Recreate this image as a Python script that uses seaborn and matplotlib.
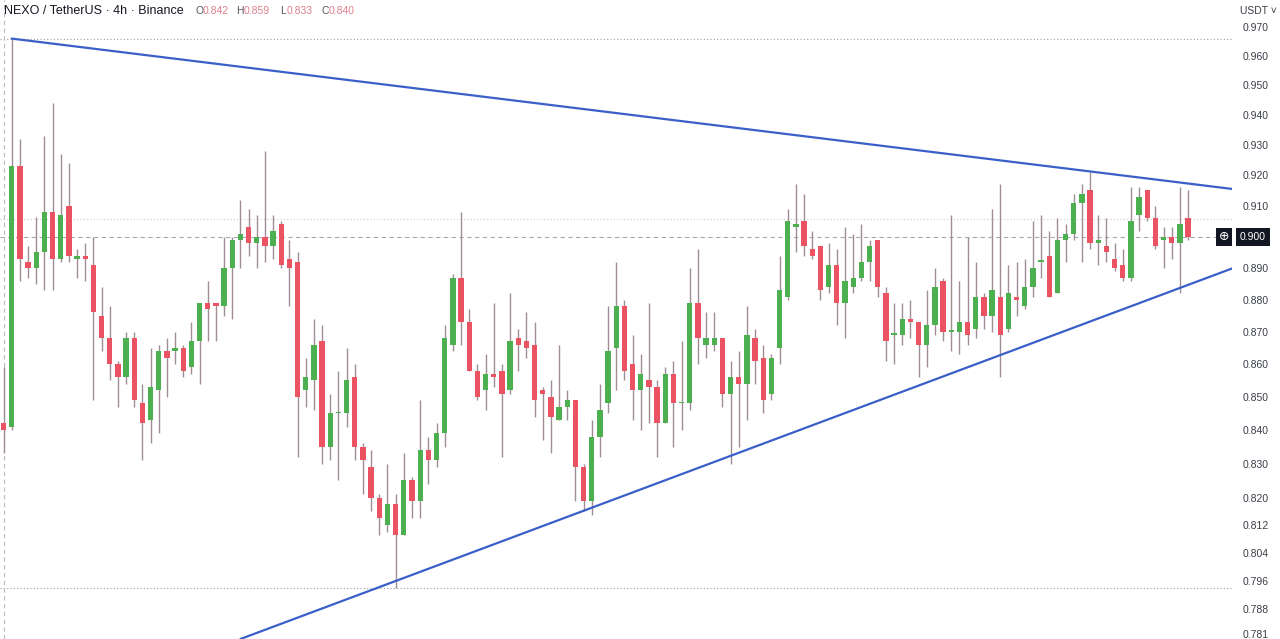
import numpy as np
import pandas as pd
import seaborn as sns
import matplotlib.pyplot as plt
import matplotlib.ticker as mticker

# NEXO / USDT 4h candles
opens = [0.842, 0.841, 0.923, 0.892, 0.890, 0.895, 0.908, 0.893, 0.910, 0.893,
         0.894, 0.891, 0.875, 0.868, 0.860, 0.856, 0.868, 0.848, 0.843, 0.852,
         0.864, 0.864, 0.865, 0.859, 0.867, 0.879, 0.879, 0.878, 0.890, 0.899,
         0.903, 0.898, 0.900, 0.897, 0.904, 0.893, 0.892, 0.852, 0.855, 0.867,
         0.835, 0.845, 0.845, 0.856, 0.835, 0.829, 0.820, 0.812, 0.818, 0.809,
         0.825, 0.819, 0.834, 0.831, 0.839, 0.866, 0.887, 0.873, 0.858, 0.852,
         0.857, 0.858, 0.852, 0.868, 0.867, 0.866, 0.852, 0.850, 0.843, 0.847,
         0.849, 0.829, 0.819, 0.838, 0.848, 0.865, 0.878, 0.860, 0.852, 0.855,
         0.853, 0.842, 0.857, 0.848, 0.848, 0.879, 0.866, 0.866, 0.868, 0.851,
         0.856, 0.854, 0.868, 0.862, 0.851, 0.865, 0.881, 0.903, 0.905, 0.896,
         0.897, 0.884, 0.891, 0.879, 0.884, 0.887, 0.892, 0.899, 0.882, 0.869,
         0.869, 0.874, 0.873, 0.866, 0.872, 0.886, 0.870, 0.870, 0.873, 0.871,
         0.881, 0.875, 0.881, 0.871, 0.881, 0.878, 0.884, 0.892, 0.894, 0.882,
         0.899, 0.901, 0.911, 0.915, 0.898, 0.897, 0.893, 0.891, 0.887, 0.907,
         0.915, 0.906, 0.899, 0.900, 0.898, 0.906]
highs = [0.859, 0.966, 0.932, 0.897, 0.9065, 0.933, 0.944, 0.927, 0.924, 0.896,
         0.898, 0.900, 0.884, 0.878, 0.861, 0.870, 0.870, 0.854, 0.865, 0.866,
         0.868, 0.870, 0.866, 0.873, 0.879, 0.886, 0.879, 0.900, 0.900, 0.912,
         0.909, 0.907, 0.928, 0.907, 0.905, 0.899, 0.895, 0.862, 0.874, 0.872,
         0.851, 0.858, 0.865, 0.860, 0.836, 0.834, 0.821, 0.830, 0.821, 0.833,
         0.826, 0.849, 0.838, 0.842, 0.872, 0.888, 0.908, 0.877, 0.860, 0.863,
         0.879, 0.860, 0.882, 0.871, 0.876, 0.873, 0.853, 0.855, 0.866, 0.852,
         0.849, 0.830, 0.843, 0.854, 0.878, 0.892, 0.880, 0.869, 0.863, 0.879,
         0.855, 0.859, 0.861, 0.867, 0.890, 0.896, 0.876, 0.876, 0.868, 0.861,
         0.864, 0.878, 0.871, 0.866, 0.863, 0.894, 0.909, 0.917, 0.914, 0.902,
         0.897, 0.898, 0.896, 0.903, 0.901, 0.904, 0.899, 0.899, 0.884, 0.879,
         0.879, 0.880, 0.873, 0.883, 0.890, 0.887, 0.907, 0.886, 0.900, 0.892,
         0.882, 0.909, 0.917, 0.891, 0.892, 0.893, 0.905, 0.907, 0.902, 0.906,
         0.904, 0.914, 0.917, 0.921, 0.907, 0.906, 0.898, 0.896, 0.916, 0.916,
         0.915, 0.910, 0.903, 0.903, 0.916, 0.915]
lows = [0.833, 0.840, 0.886, 0.887, 0.885, 0.883, 0.883, 0.892, 0.892, 0.887,
        0.886, 0.849, 0.864, 0.855, 0.847, 0.854, 0.847, 0.831, 0.836, 0.839,
        0.850, 0.860, 0.856, 0.857, 0.854, 0.867, 0.867, 0.875, 0.874, 0.890,
        0.894, 0.890, 0.892, 0.893, 0.890, 0.878, 0.832, 0.847, 0.846, 0.830,
        0.831, 0.825, 0.841, 0.831, 0.821, 0.816, 0.809, 0.810, 0.794, 0.809,
        0.814, 0.814, 0.824, 0.829, 0.835, 0.864, 0.866, 0.858, 0.849, 0.846,
        0.853, 0.832, 0.851, 0.858, 0.862, 0.844, 0.837, 0.833, 0.843, 0.843,
        0.819, 0.816, 0.815, 0.832, 0.845, 0.852, 0.855, 0.843, 0.840, 0.842,
        0.832, 0.842, 0.835, 0.840, 0.846, 0.860, 0.862, 0.864, 0.847, 0.830,
        0.835, 0.843, 0.854, 0.845, 0.849, 0.860, 0.880, 0.895, 0.894, 0.893,
        0.880, 0.882, 0.872, 0.868, 0.882, 0.886, 0.886, 0.881, 0.861, 0.860,
        0.866, 0.868, 0.856, 0.859, 0.869, 0.867, 0.864, 0.863, 0.866, 0.868,
        0.871, 0.870, 0.856, 0.870, 0.875, 0.877, 0.881, 0.887, 0.881, 0.882,
        0.892, 0.899, 0.892, 0.896, 0.891, 0.892, 0.889, 0.886, 0.886, 0.902,
        0.905, 0.896, 0.890, 0.893, 0.882, 0.899]
closes = [0.840, 0.923, 0.893, 0.890, 0.895, 0.908, 0.893, 0.907, 0.894, 0.894,
          0.893, 0.876, 0.868, 0.860, 0.856, 0.868, 0.849, 0.842, 0.853, 0.864,
          0.862, 0.865, 0.858, 0.867, 0.879, 0.877, 0.878, 0.890, 0.899, 0.901,
          0.898, 0.900, 0.897, 0.902, 0.891, 0.890, 0.850, 0.856, 0.866, 0.835,
          0.845, 0.845, 0.855, 0.835, 0.831, 0.820, 0.814, 0.818, 0.809, 0.825,
          0.819, 0.834, 0.831, 0.839, 0.868, 0.887, 0.873, 0.858, 0.850, 0.857,
          0.856, 0.851, 0.867, 0.866, 0.865, 0.849, 0.851, 0.844, 0.847, 0.849,
          0.829, 0.819, 0.838, 0.846, 0.864, 0.878, 0.858, 0.852, 0.857, 0.853,
          0.842, 0.857, 0.848, 0.848, 0.879, 0.868, 0.868, 0.868, 0.851, 0.856,
          0.854, 0.869, 0.861, 0.849, 0.862, 0.883, 0.905, 0.904, 0.897, 0.894,
          0.883, 0.891, 0.879, 0.886, 0.887, 0.892, 0.897, 0.884, 0.867, 0.869,
          0.874, 0.873, 0.866, 0.872, 0.884, 0.870, 0.870, 0.873, 0.869, 0.881,
          0.875, 0.883, 0.869, 0.882, 0.880, 0.884, 0.890, 0.892, 0.881, 0.899,
          0.901, 0.911, 0.914, 0.898, 0.899, 0.895, 0.890, 0.887, 0.905, 0.913,
          0.906, 0.897, 0.900, 0.898, 0.904, 0.900]

price_ticks = [0.970, 0.960, 0.950, 0.940, 0.930, 0.920, 0.910, 0.900, 0.890,
               0.880, 0.870, 0.860, 0.850, 0.840, 0.830, 0.820, 0.812, 0.804,
               0.796, 0.788, 0.781]

# triangle trend lines (candle index, price)
upper_x = [1, 150.4]
upper_y = [0.966, 0.9155]
lower_x = [29, 150.4]
lower_y = [0.7796, 0.8899]

range_high = 0.966
range_low = 0.7939
price_line = 0.9057
cross_price = 0.900
cross_idx = 0

GREEN = '#4caf50'
RED = '#ec5362'
WICK = '#a08e96'
BLUE = '#3b5fc8'

sns.set_theme(style='white')
plt.rcParams['font.family'] = ['Liberation Sans', 'DejaVu Sans']

df = pd.DataFrame({'open': opens, 'high': highs, 'low': lows, 'close': closes})
df['idx'] = np.arange(len(df))
up = df['close'] >= df['open']
colors = np.where(up, GREEN, RED)

W, H = 1280, 639
fig = plt.figure(figsize=(W / 100, H / 100), dpi=100)
ax = fig.add_axes([0, 0, 1232 / W, 1])
ax.set_yscale('log')

# guide lines
ax.axhline(range_high, color='#9aa0aa', ls=(0, (1, 2)), lw=0.8, zorder=1)
ax.axhline(range_low, color='#9aa0aa', ls=(0, (1, 2)), lw=0.8, zorder=1)
ax.axhline(price_line, color='#c8cad0', ls=(0, (1, 2)), lw=0.8, zorder=1)
ax.axhline(cross_price, color='#a6a9b0', ls=(0, (4, 3)), lw=0.8, zorder=1)
ax.axvline(cross_idx, color='#b6b9c0', ls=(0, (4, 3)), lw=0.8, zorder=1)

# candles
ax.vlines(df['idx'], df['low'], df['high'], color=WICK, lw=1, zorder=2)
body = np.maximum((df['close'] - df['open']).abs(), 0.0005)
ax.bar(df['idx'], body, bottom=np.minimum(df['open'], df['close']),
       width=0.65, color=colors, lw=0, zorder=3)

# triangle
sns.lineplot(x=upper_x, y=upper_y, ax=ax, color=BLUE, lw=1.6, zorder=4)
sns.lineplot(x=lower_x, y=lower_y, ax=ax, color=BLUE, lw=1.6, zorder=4)

ax.set_xlim(-0.43, 150.37)
ax.set_ylim(0.7796, 0.9794)
ax.yaxis.tick_right()
ax.yaxis.set_major_locator(mticker.FixedLocator(price_ticks))
ax.yaxis.set_minor_locator(mticker.NullLocator())
# the crosshair box below shows 0.900, so leave that tick label blank
ax.yaxis.set_major_formatter(mticker.FuncFormatter(
    lambda v, pos: '' if abs(v - cross_price) < 1e-6 else f'{v:.3f}'))
ax.tick_params(axis='y', length=0, pad=8, labelsize=7.5, labelcolor='#3a3e48')
ax.set_xticks([])
ax.set_xlabel('')
ax.set_ylabel('')
for s in ax.spines.values():
    s.set_visible(False)


def fx(x):
    return x / W


def fy(y):
    return 1 - y / H


# header
fig.text(fx(4), fy(11), 'NEXO / TetherUS · 4h · Binance', fontsize=9,
         color='#131722', va='center', ha='left')
ohlc = [('O', 195, '0.842', 203), ('H', 236, '0.859', 244),
        ('L', 280, '0.833', 287), ('C', 321, '0.840', 329)]
for letter, lx, val, vx in ohlc:
    fig.text(fx(lx), fy(11), letter, fontsize=7.5, color='#50535e', va='center')
    fig.text(fx(vx), fy(11), val, fontsize=7.5, color='#df7f8a', va='center')

# price scale extras
fig.text(fx(1240), fy(11), 'USDT ˅', fontsize=7.5, color='#3a3e48', va='center',
         bbox=dict(boxstyle='square,pad=0.35', fc='white', ec='none'))
fig.text(fx(1224), fy(237), '⊕', fontsize=9, color='white', va='center', ha='center',
         bbox=dict(boxstyle='square,pad=0.25', fc='#131722', ec='none'))
fig.text(fx(1240), fy(237), '0.900', fontsize=7.5, color='white', va='center',
         bbox=dict(boxstyle='square,pad=0.35', fc='#131722', ec='none'))

fig.savefig('out.png', dpi=100)
